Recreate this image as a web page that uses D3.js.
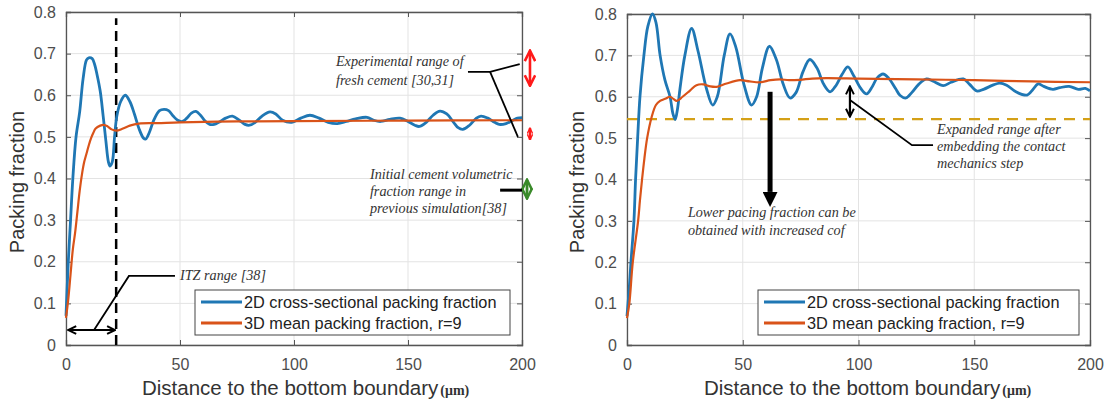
<!DOCTYPE html>
<head>
<meta charset="utf-8">
<script src="https://d3js.org/d3.v7.min.js"></script>
<style>
  body { margin: 0; background: #fff; font-family: "Liberation Sans", Arial, sans-serif; }
  .tick text { fill: #4d4d4d; font-size: 16px; font-family: "Liberation Sans", Arial, sans-serif; }
  .note { font-family: "Liberation Serif", "Times New Roman", serif; font-style: italic; font-size: 14.2px; fill: #333; }
</style>
</head>
<body>
<div id="chart"></div>
<script>
// ---- data (x in um, packing fraction) ----
var xTicks = [0, 50, 100, 150, 200];
var yTicks = [0, 0.1, 0.2, 0.3, 0.4, 0.5, 0.6, 0.7, 0.8];
var seriesNames = ["2D cross-sectional packing fraction", "3D mean packing fraction, r=9"];

var left2D = [[0,0.07],[1,0.2],[2,0.3],[3,0.4],[4.4,0.5],[6,0.56],[7.5,0.64],[9,0.685],[10,0.69],[11.5,0.688],[12.5,0.675],[13.6,0.65],[15,0.61],[16.3,0.55],[17.5,0.49],[18.6,0.44],[19.3,0.43],[20.3,0.44],[21.3,0.5],[22.3,0.55],[24,0.585],[26,0.6],[28,0.585],[30,0.555],[32,0.52],[34,0.497],[35,0.495],[36.5,0.51],[38.5,0.54],[41,0.563],[43,0.566],[45,0.563],[47,0.55],[49,0.54],[51,0.537],[53,0.545],[55,0.557],[57,0.561],[59,0.552],[61,0.538],[63,0.53],[65,0.53],[67,0.535],[70,0.545],[73,0.55],[76,0.54],[78.5,0.53],[80.5,0.528],[83,0.535],[86,0.55],[89.5,0.56],[92,0.555],[95,0.54],[99,0.535],[103,0.545],[107,0.552],[111,0.545],[115,0.535],[119,0.532],[123,0.537],[127,0.543],[132,0.547],[135,0.54],[138,0.537],[142,0.542],[146.5,0.545],[150,0.537],[153,0.528],[155,0.525],[158,0.535],[161,0.552],[164,0.562],[167,0.555],[170,0.535],[172,0.522],[174,0.518],[177,0.528],[180,0.545],[182,0.55],[185,0.545],[188,0.535],[190,0.53],[193,0.532],[196,0.54],[198,0.545],[200,0.546]];
var left3D = [[0,0.065],[1,0.11],[2,0.17],[3,0.23],[4,0.27],[5,0.32],[6,0.37],[7,0.41],[8,0.44],[9,0.46],[10,0.48],[11,0.497],[12,0.51],[13,0.52],[15,0.527],[16.5,0.529],[18,0.526],[20,0.518],[22,0.515],[25,0.52],[28,0.527],[32,0.532],[40,0.533],[50,0.535],[75,0.537],[100,0.538],[150,0.539],[200,0.54]];

var right2D = [[0,0.07],[1,0.14],[1.7,0.2],[3,0.3],[3.7,0.4],[4.6,0.5],[5.6,0.6],[7.3,0.7],[9,0.77],[11,0.8],[12.5,0.78],[14.3,0.7],[16.4,0.64],[18.6,0.6],[19.8,0.56],[20.8,0.545],[21.8,0.57],[22.9,0.62],[25,0.7],[27.9,0.765],[30.7,0.71],[34.3,0.62],[37,0.58],[39,0.6],[42,0.7],[44.5,0.752],[47,0.72],[50.5,0.63],[53.8,0.58],[56,0.6],[58.5,0.67],[61.5,0.722],[64.5,0.69],[67.5,0.63],[70.4,0.597],[73,0.61],[76,0.66],[79,0.69],[82,0.67],[85,0.63],[87.7,0.612],[90,0.625],[93,0.655],[95.4,0.672],[98,0.65],[101,0.62],[103.5,0.607],[106,0.625],[108,0.645],[110.6,0.655],[113,0.645],[116,0.62],[118,0.603],[120.5,0.597],[123,0.61],[126,0.63],[129.4,0.643],[132,0.638],[136.6,0.627],[140,0.635],[145.3,0.643],[148,0.63],[151,0.614],[154,0.618],[158,0.628],[161,0.633],[164,0.628],[168,0.612],[172.8,0.604],[175,0.615],[177.6,0.631],[180,0.625],[184,0.618],[187,0.622],[191,0.625],[195,0.618],[198,0.62],[200,0.614]];
var right3D = [[0,0.065],[1,0.1],[2.5,0.2],[4.8,0.3],[5.6,0.35],[6.5,0.4],[7.5,0.45],[8.7,0.5],[10.6,0.55],[12.5,0.58],[14.3,0.59],[16.5,0.595],[18.6,0.6],[20,0.595],[21.5,0.59],[24,0.6],[27.2,0.615],[30,0.628],[33,0.63],[36,0.625],[38.8,0.624],[43,0.632],[48.8,0.64],[53,0.637],[57.5,0.635],[62,0.64],[66,0.642],[70,0.64],[74.7,0.641],[80,0.644],[86,0.645],[100,0.644],[125,0.642],[150,0.64],[175,0.637],[200,0.635]];

var blue = "#1f77b4", orange = "#d95319";

var svg = d3.select("#chart").append("svg")
    .attr("width", 1109)
    .attr("height", 402);

var defs = svg.append("defs");
function chevron(id, color, size) {
    defs.append("marker").attr("id", id)
        .attr("viewBox", "0 0 10 10").attr("refX", 9).attr("refY", 5)
        .attr("markerWidth", size).attr("markerHeight", size).attr("orient", "auto-start-reverse")
        .append("path").attr("d", "M1,1 L9,5 L1,9")
        .attr("fill", "none").attr("stroke", color).attr("stroke-width", 2);
}
chevron("chevBlack", "#000", 4.5);
chevron("chevRed", "#ff1a1a", 5);
chevron("chevRedSmall", "#ff1a1a", 2.6);
chevron("chevGreen", "#3a8a2a", 4.5);
defs.append("marker").attr("id", "triBlack")
    .attr("viewBox", "0 0 10 10").attr("refX", 0).attr("refY", 5)
    .attr("markerWidth", 3).attr("markerHeight", 3).attr("orient", "auto")
    .append("path").attr("d", "M0,0 L10,5 L0,10 Z").attr("fill", "#000");

function panel(cfg) {
    var g = svg.append("g");
    var x = d3.scaleLinear().domain([0, 200]).range([cfg.x0, cfg.x1]);
    var y = d3.scaleLinear().domain([0, 0.8]).range([345, cfg.top]);

    // grid
    g.append("g").selectAll("line.gx").data(xTicks).enter().append("line")
        .attr("x1", d => x(d)).attr("x2", d => x(d))
        .attr("y1", y(0)).attr("y2", y(0.8))
        .attr("stroke", "#e3e3e3").attr("stroke-width", 1);
    g.append("g").selectAll("line.gy").data(yTicks).enter().append("line")
        .attr("x1", x(0)).attr("x2", x(200))
        .attr("y1", d => y(d)).attr("y2", d => y(d))
        .attr("stroke", "#e3e3e3").attr("stroke-width", 1);

    // axes (MATLAB box with inward ticks)
    var xAxis = d3.axisBottom(x).tickValues(xTicks).tickSize(-5).tickPadding(14).tickFormat(d3.format("d"));
    var yAxis = d3.axisLeft(y).tickValues(yTicks).tickSize(-5).tickPadding(10).tickFormat(d => d === 0 ? "0" : d3.format(".1f")(d));
    g.append("g").attr("transform", `translate(0,${y(0)})`).call(xAxis);
    g.append("g").attr("transform", `translate(${x(0)},0)`).call(yAxis);
    g.append("g").attr("transform", `translate(0,${y(0.8)})`).call(d3.axisTop(x).tickValues(xTicks).tickSize(-5).tickFormat(""));
    g.append("g").attr("transform", `translate(${x(200)},0)`).call(d3.axisRight(y).tickValues(yTicks).tickSize(-5).tickFormat(""));
    g.selectAll(".domain").attr("stroke", "#555").attr("stroke-width", 1.3);
    g.selectAll(".tick line").attr("stroke", "#555");

    cfg.extra && cfg.extra(g, x, y, "before");

    var line = d3.line().x(d => x(d[0])).y(d => y(d[1])).curve(d3.curveCatmullRom.alpha(0.5));
    g.append("path").datum(cfg.s2D).attr("d", line)
        .attr("fill", "none").attr("stroke", blue).attr("stroke-width", 2.8);
    g.append("path").datum(cfg.s3D).attr("d", line)
        .attr("fill", "none").attr("stroke", orange).attr("stroke-width", 2.2);

    cfg.extra && cfg.extra(g, x, y, "after");

    // axis labels
    g.append("text")
        .attr("transform", `translate(${cfg.ylabX},182) rotate(-90)`)
        .attr("text-anchor", "middle")
        .style("font-size", "20px").style("fill", "#333")
        .text("Packing fraction");
    var xl = g.append("text").attr("x", cfg.xlabX).attr("y", 395)
        .style("font-size", "20.5px").style("fill", "#333");
    xl.append("tspan").text("Distance to the bottom boundary");
    xl.append("tspan").attr("dx", 2)
        .style("font-family", "'Liberation Serif', serif").style("font-weight", "bold").style("font-size", "14px")
        .text("(\u03bcm)");

    // legend
    var lg = g.append("g").attr("transform", `translate(${cfg.legX},290)`);
    lg.append("rect").attr("width", cfg.legW).attr("height", 45)
        .attr("fill", "#fff").attr("stroke", "#444").attr("stroke-width", 1);
    [blue, orange].forEach(function(c, i) {
        lg.append("line").attr("x1", 6).attr("x2", 47).attr("y1", 12 + i * 21).attr("y2", 12 + i * 21)
            .attr("stroke", c).attr("stroke-width", 2.8);
        lg.append("text").attr("x", 49).attr("y", 17.5 + i * 21)
            .style("font-size", "16.3px").style("fill", "#222")
            .text(seriesNames[i]);
    });
}

function seg(g, pts, color, width) {
    return g.append("path").attr("d", d3.line()(pts))
        .attr("fill", "none").attr("stroke", color).attr("stroke-width", width);
}
function notes(g, x0, lines, yPix, step) {
    lines.forEach(function(t, i) {
        g.append("text").attr("class", "note").attr("x", x0).attr("y", yPix + i * step).text(t);
    });
}

panel({
    x0: 66, x1: 522, top: 12, s2D: left2D, s3D: left3D, ylabX: 24, xlabX: 142, legX: 195, legW: 315,
    extra: function(g, x, y, stage) {
        if (stage === "before") {
            seg(g, [[x(22), y(0)], [x(22), y(0.785)]], "#000", 2.5).attr("stroke-dasharray", "10,6");
            return;
        }
        // ITZ range
        seg(g, [[x(1), y(0.036)], [x(21.5), y(0.036)]], "#000", 2.2)
            .attr("marker-start", "url(#chevBlack)").attr("marker-end", "url(#chevBlack)");
        seg(g, [[x(12.3), y(0.036)], [x(27.6), y(0.166)], [x(47.8), y(0.166)]], "#000", 1.8);
        notes(g, x(50), ["ITZ range [38]"], y(0.166) + 4, 0);
        // experimental range
        seg(g, [[x(203.5), y(0.707)], [x(203.5), y(0.623)]], "#ff1a1a", 2.6)
            .attr("marker-start", "url(#chevRed)").attr("marker-end", "url(#chevRed)");
        seg(g, [[x(203.5), y(0.521)], [x(203.5), y(0.493)]], "#ff1a1a", 2.6)
            .attr("marker-start", "url(#chevRedSmall)").attr("marker-end", "url(#chevRedSmall)");
        seg(g, [[x(176.3), y(0.656)], [x(186), y(0.656)], [x(199), y(0.675)]], "#000", 1.8);
        seg(g, [[x(186), y(0.656)], [x(198.2), y(0.5)]], "#000", 1.8);
        notes(g, x(118.4), ["Experimental range of", "fresh cement [30,31]"], y(0.67), 19);
        // initial cement range
        seg(g, [[x(202.2), y(0.397)], [x(202.2), y(0.352)]], "#3a8a2a", 2.8)
            .attr("marker-start", "url(#chevGreen)").attr("marker-end", "url(#chevGreen)");
        seg(g, [[x(190.4), y(0.372)], [x(200), y(0.372)]], "#000", 3);
        notes(g, x(133.3), ["Initial cement volumetric", "fraction range in", "previous simulation[38]"], y(0.4), 17);
    }
});

panel({
    x0: 627, x1: 1090, top: 14, s2D: right2D, s3D: right3D, ylabX: 584, xlabX: 704, legX: 758, legW: 321,
    extra: function(g, x, y, stage) {
        if (stage === "before") {
            seg(g, [[x(0), y(0.546)], [x(200), y(0.546)]], "#d4a017", 2.2).attr("stroke-dasharray", "11,8");
            return;
        }
        seg(g, [[x(61.8), y(0.612)], [x(61.8), y(0.37)]], "#000", 5)
            .attr("marker-end", "url(#triBlack)");
        notes(g, x(26.3), ["Lower pacing fraction can be", "obtained with increased cof"], y(0.309), 18);
        seg(g, [[x(96.3), y(0.625)], [x(96.3), y(0.552)]], "#000", 2.2)
            .attr("marker-start", "url(#chevBlack)").attr("marker-end", "url(#chevBlack)");
        seg(g, [[x(96.3), y(0.592)], [x(123.1), y(0.483)], [x(132.2), y(0.483)]], "#000", 1.8);
        notes(g, x(133.9), ["Expanded range after", "embedding the contact", "mechanics step"], y(0.51), 17);
    }
});
</script>
</body>
